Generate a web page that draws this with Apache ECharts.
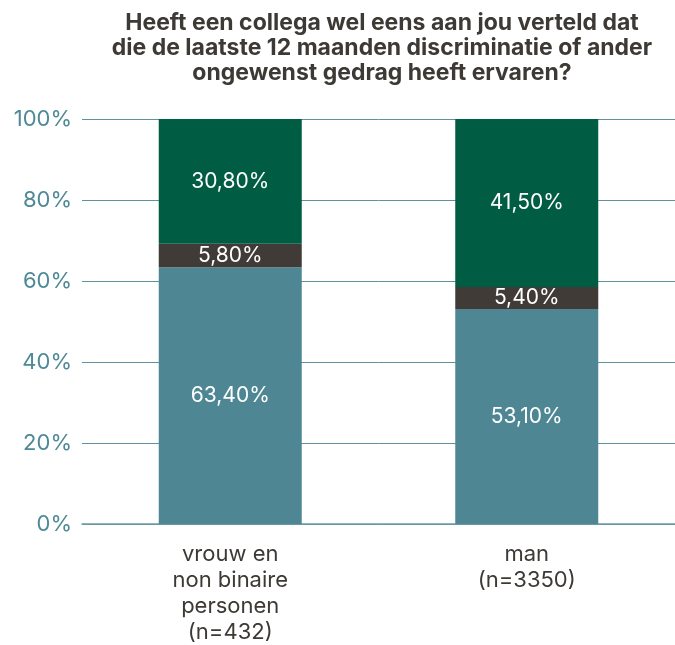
<!DOCTYPE html>
<html>
<head>
<meta charset="utf-8">
<script src="https://cdn.jsdelivr.net/npm/echarts@6/dist/echarts.min.js"></script>
<style>
    html, body { margin: 0; padding: 0; background: #fff; }
    #chart { width: 675px; height: 645px; }
</style>
</head>
<body>
<div id="chart"></div>
<script>
// categories and values (percent)
let categories = ['vrouw en\nnon binaire\npersonen\n(n=432)', 'man\n(n=3350)']
let nee = [63.4, 53.1]
let weetNiet = [5.8, 5.4]
let ja = [30.8, 41.5]
let yTicks = [0, 20, 40, 60, 80, 100]

let fmt = p => p.value.toFixed(2).replace('.', ',') + '%'
let labelStyle = {
    show: true,
    color: '#ffffff',
    fontSize: 21,
    fontFamily: 'Inter',
    formatter: fmt
}

let myChart = echarts.init(document.querySelector('#chart'))
myChart.setOption({
    animation: false,
    title: {
        text: 'Heeft een collega wel eens aan jou verteld dat\ndie de laatste 12 maanden discriminatie of ander\nongewenst gedrag heeft ervaren?',
        left: 377,
        top: 6,
        textAlign: 'center',
        textStyle: {
            fontSize: 23,
            fontWeight: 'bold',
            fontFamily: 'Inter',
            color: '#3d3935',
            lineHeight: 25
        }
    },
    grid: {
        left: 82,
        right: 0,
        top: 119,
        bottom: 645 - 525.5,
        containLabel: false
    },
    xAxis: {
        type: 'category',
        data: categories,
        axisLine: {show: true, lineStyle: {color: '#6d9ba5', width: 1.5}},
        axisTick: {show: false},
        axisLabel: {
            color: '#3d3935',
            fontSize: 22,
            fontFamily: 'Inter',
            lineHeight: 26,
            margin: 17
        }
    },
    yAxis: {
        type: 'value',
        min: yTicks[0],
        max: yTicks[yTicks.length - 1],
        interval: 20,
        axisLine: {show: false},
        axisTick: {show: false},
        splitLine: {lineStyle: {color: '#5e939e', width: 1}},
        axisLabel: {
            color: '#4e8a96',
            fontSize: 22,
            fontFamily: 'Inter',
            margin: 10,
            formatter: '{value}%'
        }
    },
    series: [
        {name: 'nee', type: 'bar', stack: 'a', data: nee, barWidth: 143,
            itemStyle: {color: '#4e8793'}, label: labelStyle},
        {name: 'weet niet', type: 'bar', stack: 'a', data: weetNiet,
            itemStyle: {color: '#403b37'}, label: labelStyle},
        {name: 'ja', type: 'bar', stack: 'a', data: ja,
            itemStyle: {color: '#005c43'}, label: labelStyle}
    ]
})
</script>
</body>
</html>
